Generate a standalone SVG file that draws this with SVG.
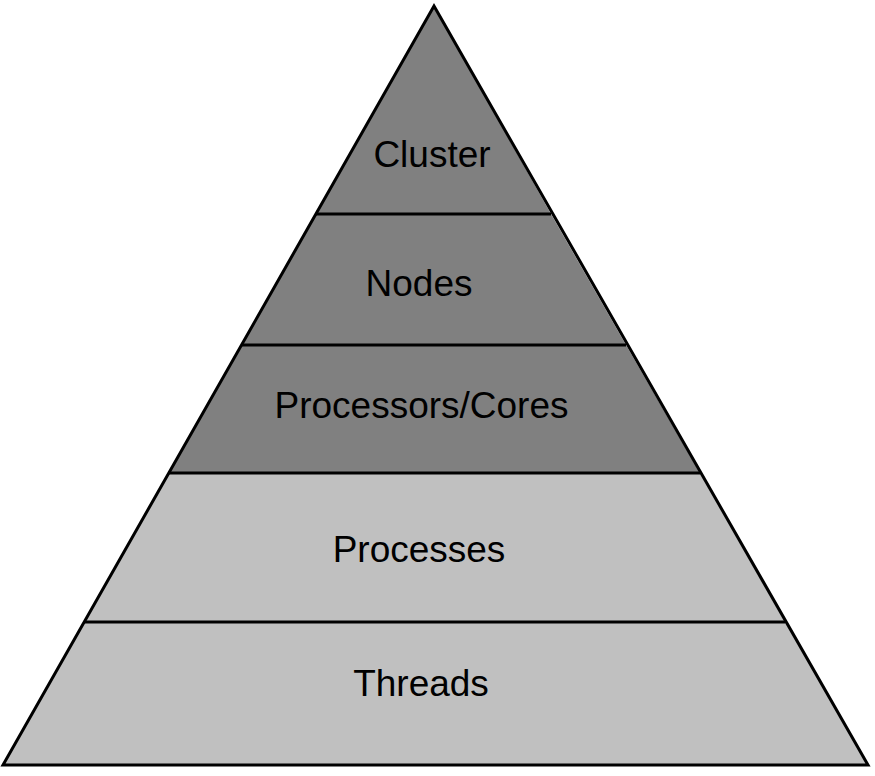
<svg xmlns="http://www.w3.org/2000/svg" width="875" height="776" viewBox="0 0 875 776">
  <style>
    .dark { fill: #808080; stroke: none; }
    .light { fill: #c0c0c0; stroke: none; }
    .edge { fill: none; stroke: #000000; stroke-width: 3; stroke-linejoin: miter; }
    .div { stroke: #000000; stroke-width: 3; }
    .label { font-family: "Liberation Sans", Arial, sans-serif; font-size: 37px; fill: #000000; text-anchor: middle; }
  </style>
  <rect width="875" height="776" fill="#ffffff"/>
  <g id="cluster">
    <polygon class="dark" points="434,6 551,214 316,214"/>
    <text class="label" x="432" y="167">Cluster</text>
  </g>
  <g id="nodes">
    <polygon class="dark" points="316,214 551,214 626,345 242,345"/>
    <text class="label" x="419" y="295.5">Nodes</text>
  </g>
  <g id="processors-cores">
    <polygon class="dark" points="242,345 626,345 700,473 168,473"/>
    <text class="label" x="421.5" y="417.5">Processors/Cores</text>
  </g>
  <g id="processes">
    <polygon class="light" points="168,473 700,473 785,622 84,622"/>
    <text class="label" x="419" y="562">Processes</text>
  </g>
  <g id="threads">
    <polygon class="light" points="84,622 785,622 868,765 3,765"/>
    <text class="label" x="421" y="695.5">Threads</text>
  </g>
  <g id="connectors">
    <polygon class="edge" points="434,6 868,765 3,765"/>
    <line class="div" x1="316" y1="214" x2="551" y2="214"/>
    <line class="div" x1="242" y1="345" x2="626" y2="345"/>
    <line class="div" x1="168" y1="473" x2="700" y2="473"/>
    <line class="div" x1="84" y1="622" x2="785" y2="622"/>
  </g>
</svg>
